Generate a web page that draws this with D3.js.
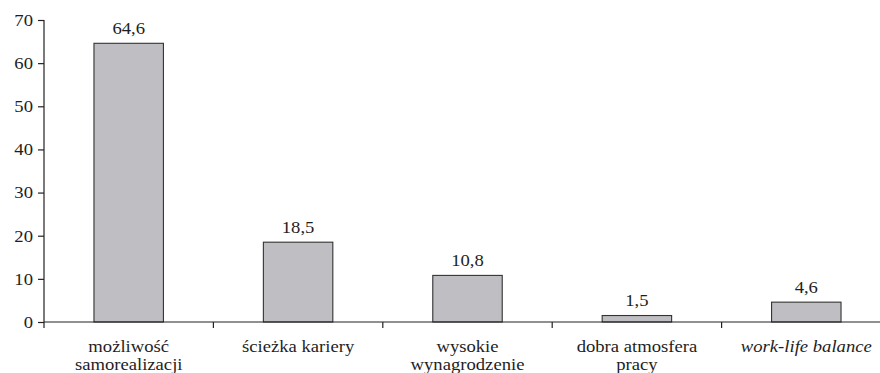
<!DOCTYPE html>
<html>
<head>
<meta charset="utf-8">
<script src="https://cdn.jsdelivr.net/npm/d3@7"></script>
<style>
  html, body { margin: 0; padding: 0; background: #fff; }
  svg { display: block; }
</style>
</head>
<body>
<svg id="chart" width="880" height="373"></svg>
<script>
// Category labels (each entry is a list of lines) and the percentages shown
const categories = [
  ["możliwość", "samorealizacji"],
  ["ścieżka kariery"],
  ["wysokie", "wynagrodzenie"],
  ["dobra atmosfera", "pracy"],
  ["work-life balance"]
];
const italicCategory = [false, false, false, false, true];
const values = [64.6, 18.5, 10.8, 1.5, 4.6];
const valueLabels = ["64,6", "18,5", "10,8", "1,5", "4,6"];
const yTicks = [0, 10, 20, 30, 40, 50, 60, 70];

const svg = d3.select("#chart");
const plotLeft = 44, plotRight = 891, plotTop = 20, plotBottom = 322;
const fontFamily = "Liberation Serif";
const fontSize = 16.5;
const widen = 1.13;          // slightly wide lettering
const textColor = "#1e1e1e";

const x = d3.scaleBand()
  .domain(d3.range(categories.length))
  .range([plotLeft, plotRight])
  .paddingInner(0.59)
  .paddingOuter(0.295);

const y = d3.scaleLinear().domain([0, 70]).range([plotBottom, plotTop]);

const axisColor = "#222";

// Y axis
const yAxis = svg.append("g")
  .attr("transform", `translate(${plotLeft},0)`)
  .call(d3.axisLeft(y).tickValues(yTicks).tickSize(6).tickPadding(5).tickFormat(d3.format("d")));
yAxis.attr("font-family", null).attr("font-size", null);
yAxis.select(".domain").attr("stroke", axisColor).attr("stroke-width", 1.2).attr("d", `M0,${plotTop}V${plotBottom + 6}`);
yAxis.selectAll(".tick line").attr("stroke", axisColor).attr("stroke-width", 1.2);
yAxis.selectAll(".tick text")
  .attr("fill", textColor)
  .attr("font-family", fontFamily)
  .attr("font-size", fontSize)
  .attr("transform", `translate(-11,0) scale(${widen},1)`)
  .attr("x", 0);

// Bars
svg.append("g").selectAll("rect")
  .data(values)
  .join("rect")
  .attr("x", (d, i) => x(i))
  .attr("width", x.bandwidth())
  .attr("y", d => y(d))
  .attr("height", d => y(0) - y(d))
  .attr("fill", "#bfbfc3")
  .attr("stroke", "#333")
  .attr("stroke-width", 1.1);

// X axis baseline and category separators
svg.append("line")
  .attr("x1", plotLeft).attr("x2", plotRight)
  .attr("y1", y(0)).attr("y2", y(0))
  .attr("stroke", axisColor).attr("stroke-width", 1.2);

const step = x.step();
const boundaries = d3.range(1, categories.length + 1).map(i => plotLeft + i * step);
svg.append("g").selectAll("line")
  .data(boundaries)
  .join("line")
  .attr("x1", d => d).attr("x2", d => d)
  .attr("y1", y(0)).attr("y2", y(0) + 6)
  .attr("stroke", axisColor).attr("stroke-width", 1.2);

// Value labels above bars
svg.append("g")
  .selectAll("text")
  .data(values)
  .join("text")
  .attr("transform", (d, i) => `translate(${x(i) + x.bandwidth() / 2},${y(d) - 9.5}) scale(${widen},1)`)
  .attr("text-anchor", "middle")
  .attr("fill", textColor)
  .attr("font-family", fontFamily)
  .attr("font-size", fontSize)
  .text((d, i) => valueLabels[i]);

// Category labels
const catG = svg.append("g");
categories.forEach((lines, i) => {
  const t = catG.append("text")
    .attr("transform", `translate(${x(i) + x.bandwidth() / 2},352) scale(${widen},1)`)
    .attr("text-anchor", "middle")
    .attr("fill", textColor)
    .attr("font-family", fontFamily)
    .attr("font-size", fontSize)
    .attr("font-style", italicCategory[i] ? "italic" : "normal");
  lines.forEach((ln, j) => {
    t.append("tspan")
      .attr("x", 0)
      .attr("dy", j === 0 ? 0 : 18)
      .text(ln);
  });
});
</script>
</body>
</html>
